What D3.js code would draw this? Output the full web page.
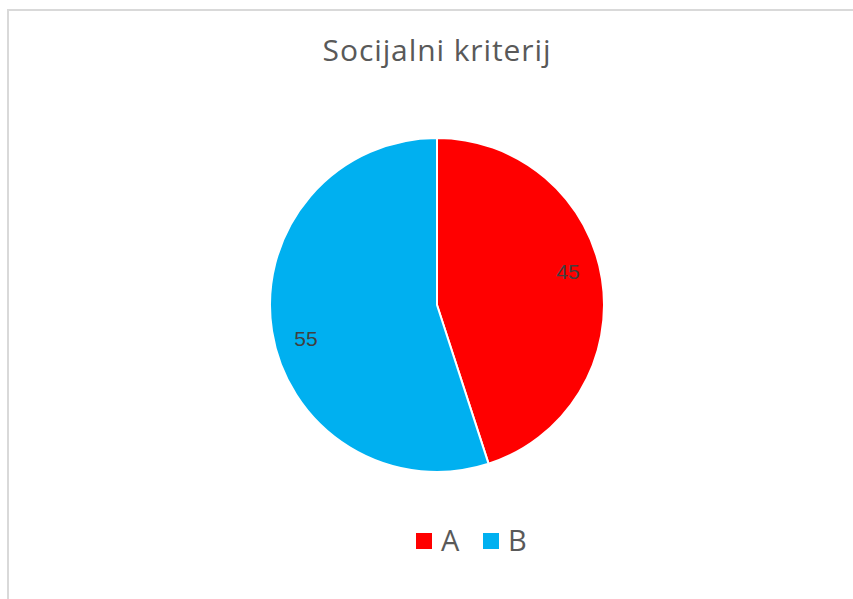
<!DOCTYPE html>
<html>
<head>
<meta charset="utf-8">
<script src="https://cdn.jsdelivr.net/npm/d3@7"></script>
<style>
  html, body { margin: 0; padding: 0; background: #ffffff; }
  svg { display: block; font-family: "Open Sans", "Noto Sans", sans-serif; }
</style>
</head>
<body>
<svg id="chart" width="853" height="599"></svg>
<script>
// Chart data
const categories = ["A", "B"];
const values = [45, 55];
const colors = ["#FF0000", "#00B0F0"];
const title = "Socijalni kriterij";

const width = 853, height = 599;
const svg = d3.select("#chart");

// Chart area frame
svg.append("rect")
  .attr("x", 8).attr("y", 10)
  .attr("width", 860).attr("height", 620)
  .attr("fill", "#ffffff")
  .attr("stroke", "#d9d9d9")
  .attr("stroke-width", 2);

// Title
svg.append("text")
  .attr("x", 437).attr("y", 61)
  .attr("text-anchor", "middle")
  .attr("fill", "#595959")
  .attr("font-size", 30)
  .attr("letter-spacing", 0.9)
  .text(title);

// Pie
const cx = 437, cy = 305, radius = 167;
const pie = d3.pie().sort(null).value(d => d)(values);
const arc = d3.arc().innerRadius(0).outerRadius(radius);

// Data labels sit inside each slice, slightly rotated counterclockwise from the mid-angle
const labelRadius = radius * 0.81;
const labelShift = -5.5 * Math.PI / 180;
function labelPos(d) {
  const a = (d.startAngle + d.endAngle) / 2 + labelShift;
  return [labelRadius * Math.sin(a), -labelRadius * Math.cos(a)];
}

const g = svg.append("g").attr("transform", `translate(${cx},${cy})`);

g.selectAll("path.slice")
  .data(pie)
  .join("path")
  .attr("class", "slice")
  .attr("d", arc)
  .attr("fill", (d, i) => colors[i])
  .attr("stroke", "#ffffff")
  .attr("stroke-width", 2)
  .attr("stroke-linejoin", "round");

g.selectAll("text.value")
  .data(pie)
  .join("text")
  .attr("class", "value")
  .attr("transform", d => `translate(${labelPos(d)})`)
  .attr("text-anchor", "middle")
  .attr("dominant-baseline", "central")
  .attr("fill", "#404040")
  .attr("font-family", "'Liberation Sans', Arial, sans-serif")
  .attr("font-size", 21)
  .text(d => d.data);

// Legend
const legend = svg.append("g").attr("transform", "translate(416,541)");
const items = legend.selectAll("g.item")
  .data(categories)
  .join("g")
  .attr("class", "item")
  .attr("transform", (d, i) => `translate(${i * 67},0)`);

items.append("rect")
  .attr("x", 0).attr("y", -8)
  .attr("width", 16).attr("height", 16)
  .attr("fill", (d, i) => colors[i]);

items.append("text")
  .attr("x", 25).attr("y", -2)
  .attr("dominant-baseline", "central")
  .attr("fill", "#595959")
  .attr("font-size", 29)
  .text(d => d);
</script>
</body>
</html>
